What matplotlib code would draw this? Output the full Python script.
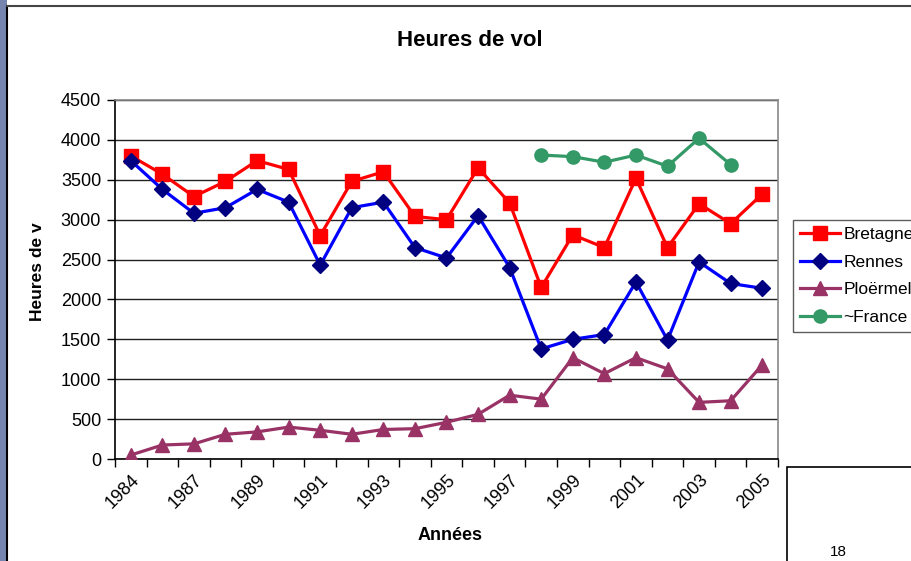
import matplotlib
matplotlib.use("Agg")
import matplotlib.pyplot as plt
from matplotlib.patches import Rectangle
from matplotlib.lines import Line2D

plt.rcParams['font.family'] = ['Liberation Sans', 'DejaVu Sans']

# categories (one per year on the axis, labels every other one)
years = ['1984', '1985', '1987', '1988', '1989', '1990', '1991', '1992', '1993', '1994',
         '1995', '1996', '1997', '1998', '1999', '2000', '2001', '2002', '2003', '2004', '2005']

bretagne = [3800, 3570, 3290, 3480, 3740, 3630, 2800, 3480, 3600, 3040,
            3000, 3650, 3210, 2150, 2810, 2650, 3520, 2650, 3200, 2950, 3320]
rennes = [3740, 3380, 3080, 3150, 3380, 3220, 2430, 3150, 3220, 2650,
          2520, 3050, 2400, 1380, 1500, 1560, 2220, 1490, 2470, 2200, 2140]
ploermel = [50, 175, 190, 310, 340, 400, 360, 310, 370, 380,
            460, 560, 800, 750, 1270, 1070, 1270, 1130, 710, 730, 1180]
# ~France only from 1998 to 2004
france_idx = [13, 14, 15, 16, 17, 18, 19]
france = [3810, 3790, 3720, 3810, 3670, 4020, 3690]

W, H = 912, 561
fig = plt.figure(figsize=(W / 100, H / 100), dpi=100)

# background strip and chart border like the slide capture
fig.patches.append(Rectangle((0, 0), 7 / W, 1, transform=fig.transFigure,
                             facecolor='#7585b0', edgecolor='none', zorder=0))
fig.add_artist(Line2D([7 / W, 7 / W], [0, 1 - 6 / H], color='black', lw=1.5,
                      transform=fig.transFigure))
fig.add_artist(Line2D([7 / W, 1], [1 - 6 / H, 1 - 6 / H], color='#444444', lw=1.5,
                      transform=fig.transFigure))

ax = fig.add_axes([115 / W, 1 - 459 / H, (778 - 115) / W, (459 - 100) / H])

x = list(range(len(years)))
ax.plot(x, bretagne, color='#FF0000', lw=2.3, marker='s', ms=9.5,
        mfc='#FF0000', mec='#FF0000', label='Bretagne', zorder=3)
ax.plot(x, rennes, color='#0000FF', lw=2.3, marker='D', ms=8.5,
        mfc='#000080', mec='#000080', label='Rennes', zorder=3)
ax.plot(x, ploermel, color='#993366', lw=2.3, marker='^', ms=10.5,
        mfc='#993366', mec='#993366', label='Ploërmel', zorder=3)
ax.plot(france_idx, france, color='#339966', lw=2.3, marker='o', ms=9.5,
        mfc='#339966', mec='#339966', label='~France', zorder=3)

ax.set_xlim(-0.5, len(years) - 0.5)
ax.set_ylim(0, 4500)
ax.set_yticks(range(0, 4501, 500))
ax.yaxis.grid(True, color='#222222', lw=1)
ax.set_axisbelow(True)
ax.tick_params(axis='y', direction='out', length=6, width=1, labelsize=13, pad=4)

ax.set_xticks(x[::2])
ax.set_xticklabels(years[::2], rotation=45, ha='right', rotation_mode='anchor')
ax.set_xticks([i - 0.5 for i in range(len(years) + 1)], minor=True)
ax.tick_params(axis='x', which='major', length=0, labelsize=13, pad=9)
ax.tick_params(axis='x', which='minor', direction='out', length=6, width=1)

for s in ['top', 'right']:
    ax.spines[s].set_color('#888888')
    ax.spines[s].set_linewidth(1.2)
for s in ['left', 'bottom']:
    ax.spines[s].set_color('black')
    ax.spines[s].set_linewidth(1.2)

fig.text(470 / W, 1 - 40 / H, 'Heures de vol', ha='center', va='center',
         fontsize=16, fontweight='bold')
fig.text(450 / W, 1 - 535 / H, 'Années', ha='center', va='center',
         fontsize=13, fontweight='bold')
fig.text(38 / W, 1 - 272 / H, 'Heures de v', ha='center', va='center',
         rotation=90, fontsize=12.5, fontweight='bold')

leg = fig.legend(loc='upper left', bbox_to_anchor=(793 / W, 1 - 220 / H),
                 fontsize=12.5, frameon=True, fancybox=False, borderpad=0.4,
                 handlelength=2.3, labelspacing=0.72, handletextpad=0.2,
                 borderaxespad=0)
leg.get_frame().set_edgecolor('#333333')
leg.get_frame().set_linewidth(1)

# box partly visible in the bottom right corner
fig.patches.append(Rectangle((787 / W, -0.1), 0.2, 0.1 + 1 - 467 / H,
                             transform=fig.transFigure, facecolor='white',
                             edgecolor='black', lw=1.2))
fig.text(838 / W, 1 - 559 / H, '18', ha='center', va='bottom', fontsize=11)

fig.savefig('out.png', dpi=100)
